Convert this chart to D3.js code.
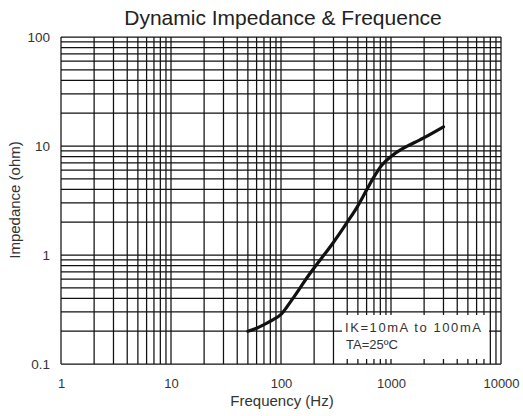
<!DOCTYPE html>
<html><head><meta charset="utf-8">
<script src="https://cdn.jsdelivr.net/npm/d3@7"></script>
<style>body{margin:0;background:#fff}svg{display:block}</style>
</head><body>
<svg id="c" width="523" height="416"></svg>
<script>
const title = "Dynamic Impedance & Frequence";
const xLabel = "Frequency (Hz)";
const yLabel = "Impedance (ohm)";
const xTicks = [1, 10, 100, 1000, 10000];
const xTickLabels = ["1", "10", "100", "1000", "10000"];
const yTicks = [0.1, 1, 10, 100];
const yTickLabels = ["0.1", "1", "10", "100"];
const freq = [50, 60, 70, 85, 100, 126, 184, 297, 400, 492, 604, 700, 828, 980, 1260, 1960, 3000];
const imp  = [0.2, 0.213, 0.23, 0.255, 0.285, 0.39, 0.68, 1.29, 2.0, 2.75, 4.0, 5.2, 6.7, 7.9, 9.4, 11.8, 15];
const note = ["IK=10mA to 100mA", "TA=25ºC"];

const svg = d3.select("#c");
const L = 61, R = 501, T = 37, B = 364;
const x = d3.scaleLog().domain([1, 10000]).range([L, R]);
const y = d3.scaleLog().domain([0.1, 100]).range([B, T]);
const font = "'Liberation Sans', Arial, sans-serif";

const xGrid = [], yGrid = [];
for (let d = 1; d < 10000; d *= 10) for (let k = 1; k <= 9; k++) xGrid.push(d * k);
xGrid.push(10000);
for (let d = 0.1; d < 99; d *= 10) for (let k = 1; k <= 9; k++) yGrid.push(+(d * k).toPrecision(3));
yGrid.push(100);

const g = svg.append("g");
g.selectAll("line.vx").data(xGrid).join("line")
  .attr("x1", d => x(d)).attr("x2", d => x(d))
  .attr("y1", T).attr("y2", B)
  .attr("stroke", "#111").attr("stroke-width", 1.25);
g.selectAll("line.hy").data(yGrid).join("line")
  .attr("y1", d => y(d)).attr("y2", d => y(d))
  .attr("x1", L).attr("x2", R)
  .attr("stroke", "#111").attr("stroke-width", 1.25);

const xAxis = d3.axisBottom(x).tickValues(xTicks).tickFormat((d, i) => xTickLabels[i]).tickSize(0).tickPadding(15);
const ax = svg.append("g").attr("transform", `translate(0,${B})`).call(xAxis);
ax.select(".domain").remove();
ax.selectAll("text").attr("font-family", font).attr("font-size", 13).attr("fill", "#333");

const yAxis = d3.axisLeft(y).tickValues(yTicks).tickFormat((d, i) => yTickLabels[i]).tickSize(0).tickPadding(11);
const ay = svg.append("g").attr("transform", `translate(${L},0)`).call(yAxis);
ay.select(".domain").remove();
ay.selectAll("text").attr("font-family", font).attr("font-size", 13.5).attr("fill", "#333");

const pts = freq.map((f, i) => [f, imp[i]]);
svg.append("path").datum(pts)
  .attr("d", d3.line().x(d => x(d[0])).y(d => y(d[1])).curve(d3.curveCatmullRom.alpha(0.5)))
  .attr("fill", "none").attr("stroke", "#111").attr("stroke-width", 3.2).attr("stroke-linecap", "round");

svg.append("rect").attr("x", 342).attr("y", 315).attr("width", 147).attr("height", 44).attr("fill", "#fff");
svg.append("text").attr("x", 345).attr("y", 332).text(note[0])
  .attr("font-family", font).attr("font-size", 13).attr("fill", "#333")
  .attr("textLength", 136).attr("lengthAdjust", "spacing");
svg.append("text").attr("x", 346).attr("y", 349).text(note[1])
  .attr("font-family", font).attr("font-size", 13).attr("fill", "#333");

svg.append("text").attr("x", 283).attr("y", 25).attr("text-anchor", "middle").text(title)
  .attr("font-family", font).attr("font-size", 21).attr("fill", "#222");
svg.append("text").attr("x", 282).attr("y", 406).attr("text-anchor", "middle").text(xLabel)
  .attr("font-family", font).attr("font-size", 15).attr("fill", "#333");
svg.append("text").attr("transform", "translate(20,200) rotate(-90)").attr("text-anchor", "middle").text(yLabel)
  .attr("font-family", font).attr("font-size", 15).attr("fill", "#333");
</script>
</body></html>
